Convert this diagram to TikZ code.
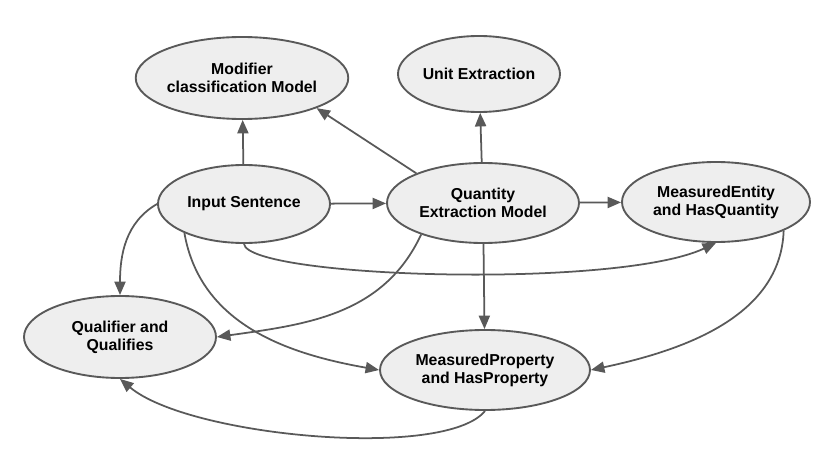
\documentclass[tikz,border=0pt]{standalone}
\usepackage{fontspec}
\setmainfont{Liberation Sans}
\usepackage{tikz}
\usetikzlibrary{shapes.geometric, arrows.meta}

\definecolor{linegray}{HTML}{595959}
\definecolor{fillgray}{HTML}{EEEEEE}

\tikzset{
    model/.style={ellipse, draw=linegray, fill=fillgray, line width=1.6pt, inner sep=0pt,
        align=center, font=\fontsize{13.5}{15.5}\selectfont\bfseries},
    flow/.style={draw=linegray, line width=1.5pt, -{Triangle[length=11.5pt,width=9.5pt]}}
}

\begin{document}
\begin{tikzpicture}[x=0.03cm, y=0.03cm]
    \useasboundingbox (0,0) rectangle (830,467);

    % Models
    \node[model, minimum width=6.12cm, minimum height=2.46cm] (modifier) at (242,389) {Modifier\\classification Model};
    \node[model, minimum width=4.86cm, minimum height=2.28cm] (unitext) at (479,393) {Unit Extraction};
    \node[model, minimum width=5.16cm, minimum height=2.34cm] (input) at (244,263) {Input Sentence};
    \node[model, minimum width=5.76cm, minimum height=2.40cm] (quantity) at (483,264) {Quantity\\Extraction Model};
    \node[model, minimum width=5.64cm, minimum height=2.40cm] (entity) at (716,265) {MeasuredEntity\\and HasQuantity};
    \node[model, minimum width=5.76cm, minimum height=2.46cm] (qualifier) at (120,130) {Qualifier and\\Qualifies};
    \node[model, minimum width=6.30cm, minimum height=2.40cm] (property) at (485,97) {MeasuredProperty\\and HasProperty};

    % Straight edges
    \draw[flow] (input) -- (modifier);
    \draw[flow] (quantity.156) -- (modifier.-22);
    \draw[flow] (quantity) -- (unitext);
    \draw[flow] (input) -- (quantity);
    \draw[flow] (quantity) -- (entity);
    \draw[flow] (quantity) -- (property);

    % Curved edges
    \draw[flow] (input.west) to[out=210, in=90, out distance=1.1cm, in distance=1.2cm] (qualifier.north);
    \draw[flow] (input.south) to[out=-82, in=205, out distance=1.03cm, in distance=3.3cm] (entity.south);
    \draw[flow] (quantity.207) to[out=-115, in=8] (qualifier.east);
    \draw[flow] (input.206) to[out=-80, in=170] (property.west);
    \draw[flow] (entity.-23) to[out=-92, in=12, out distance=2.6cm] (property.east);
    \draw[flow] (property.south) to[out=-129, in=-40, out distance=1.9cm, in distance=2.7cm] (qualifier.south);
\end{tikzpicture}
\end{document}
